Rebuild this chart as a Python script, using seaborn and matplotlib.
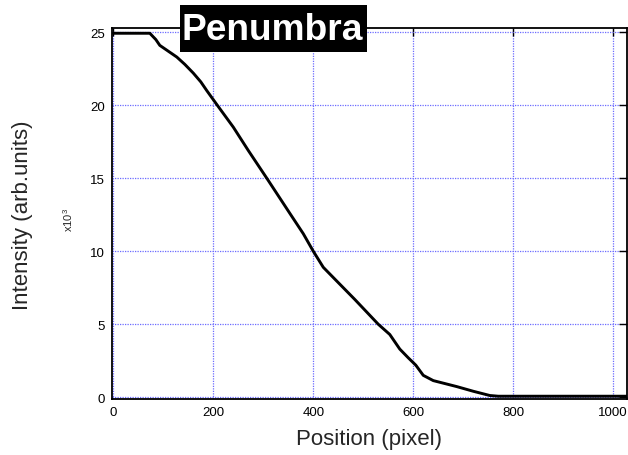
import matplotlib
matplotlib.use("Agg")
import matplotlib.pyplot as plt
from matplotlib.patches import Rectangle
import seaborn as sns
import pandas as pd

# Penumbra intensity profile (intensity in units of 10^3)
position = [0, 20, 40, 60, 73, 85, 93, 110, 127, 143, 160, 175, 187, 208,
            240, 270, 307, 353, 380, 400, 420, 440, 483, 530, 553, 573,
            590, 605, 620, 640, 687, 720, 753, 770, 900, 1027]
intensity = [24.93, 24.93, 24.93, 24.93, 24.93, 24.5, 24.1, 23.7, 23.3, 22.8,
             22.2, 21.6, 21.0, 20.0, 18.5, 16.9, 15.0, 12.6, 11.2, 10.0, 8.9,
             8.2, 6.7, 5.0, 4.3, 3.3, 2.7, 2.2, 1.5, 1.14, 0.73, 0.41, 0.12,
             0.07, 0.07, 0.07]

x_ticks = [0, 200, 400, 600, 800, 1000]
y_ticks = [0, 5, 10, 15, 20, 25]

df = pd.DataFrame({"Position": position, "Intensity": intensity})

sns.set_style("white")
plt.rcParams["font.family"] = ["Liberation Sans", "DejaVu Sans"]
plt.rcParams["mathtext.fontset"] = "custom"
plt.rcParams["mathtext.rm"] = "Liberation Sans"

fig = plt.figure(figsize=(6.28, 4.56), dpi=100)
ax = fig.add_axes([0.1779, 0.1228, 0.998 - 0.1779, 0.9364 - 0.1228])

sns.lineplot(data=df, x="Position", y="Intensity", ax=ax, color="black",
             linewidth=2.1, zorder=3)

ax.set_xlim(-3.2, 1027)
ax.set_ylim(-0.12, 25.29)
ax.set_xticks(x_ticks)
ax.set_yticks(y_ticks)
ax.grid(True, color="#6c6cff", linestyle=(0, (1, 1)), linewidth=0.9)
ax.set_axisbelow(True)

for s in ax.spines.values():
    s.set_visible(True)
    s.set_color("black")
    s.set_linewidth(1.3)

ax.tick_params(axis="both", direction="in", length=6, width=1.0,
               top=True, right=True, labelsize=9.5, colors="black", pad=5)

ax.set_xlabel("Position (pixel)", fontsize=16, labelpad=7)
ax.set_ylabel("")
fig.text(0.036, 0.528, "Intensity (arb.units)", rotation=90, fontsize=16,
         ha="center", va="center")
fig.text(0.108, 0.518, r"x10$^{3}$", rotation=90, fontsize=8,
         ha="center", va="center")

# Title plate: black box with white bold text, drawn over the frame
fig.patches.append(Rectangle((0.2866, 0.8844), 0.2973, 0.1024,
                             transform=fig.transFigure, facecolor="black",
                             edgecolor="none", zorder=9))
fig.text(0.4334, 0.9123, "Penumbra", fontsize=26.7, fontweight="bold",
         color="white", ha="center", va="baseline", zorder=10)

fig.savefig("out.png", dpi=100)
